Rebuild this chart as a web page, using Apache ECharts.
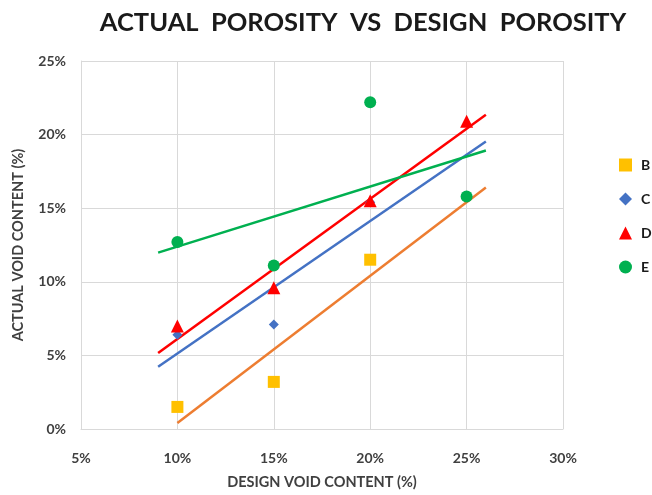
<!DOCTYPE html>
<html>
<head>
<meta charset="utf-8">
<script src="https://cdn.jsdelivr.net/npm/echarts@6/dist/echarts.min.js"></script>
<style>
  html, body { margin: 0; padding: 0; background: #fff; }
  #chart { width: 652px; height: 495px; }
</style>
</head>
<body>
<div id="chart"></div>
<script>
// Design void content (%) for each mix
const designB = [10, 15, 20];
const designC = [10, 15, 20];
const designD = [10, 15, 20, 25];
const designE = [10, 15, 20, 25];

// Measured (actual) void content (%)
const actualB = [1.5, 3.2, 11.5];
const actualC = [6.4, 7.1, 15.4];
const actualD = [7.0, 9.6, 15.5, 20.9];
const actualE = [12.7, 11.1, 22.2, 15.8];

// Range over which each linear trend line is drawn (design %)
const trendB = [10, 26];
const trendC = [9, 26];
const trendD = [9, 26];
const trendE = [9, 26];

const seriesNames = ['B', 'C', 'D', 'E'];

// Least-squares fit, evaluated at the two ends of the trend range
function trend(xs, ys, range) {
  const n = xs.length;
  const mx = xs.reduce((a, b) => a + b, 0) / n;
  const my = ys.reduce((a, b) => a + b, 0) / n;
  let sxy = 0, sxx = 0;
  for (let i = 0; i < n; i++) {
    sxy += (xs[i] - mx) * (ys[i] - my);
    sxx += (xs[i] - mx) * (xs[i] - mx);
  }
  const k = sxy / sxx;
  return range.map(x => [x, my + k * (x - mx)]);
}
function pairs(xs, ys) { return xs.map((x, i) => [x, ys[i]]); }

const FONT = 'Lato, "Open Sans", sans-serif';
const textCol = '#404040';

const colors = {
  B: { mark: '#FFC000', line: '#ED7D31', symbol: 'rect', size: 12 },
  C: { mark: '#4472C4', line: '#4472C4', symbol: 'diamond', size: 10 },
  D: { mark: '#FF0000', line: '#FF0000', symbol: 'triangle', size: 13 },
  E: { mark: '#00B050', line: '#00B050', symbol: 'circle', size: 12 }
};

const points = { B: pairs(designB, actualB), C: pairs(designC, actualC), D: pairs(designD, actualD), E: pairs(designE, actualE) };
const lines = {
  B: trend(designB, actualB, trendB),
  C: trend(designC, actualC, trendC),
  D: trend(designD, actualD, trendD),
  E: trend(designE, actualE, trendE)
};

const series = [];
seriesNames.forEach(name => {
  series.push({
    name: name + ' trend',
    type: 'line',
    data: lines[name],
    symbol: 'none',
    silent: true,
    lineStyle: { color: colors[name].line, width: 2.5 },
    z: 2
  });
});
seriesNames.forEach(name => {
  series.push({
    name: name,
    type: 'scatter',
    data: points[name],
    symbol: colors[name].symbol,
    symbolSize: colors[name].size,
    itemStyle: { color: colors[name].mark, opacity: 1 },
    z: 3
  });
});

const chart = echarts.init(document.getElementById('chart'), null, { renderer: 'canvas' });
chart.setOption({
  animation: false,
  backgroundColor: '#ffffff',
  title: {
    text: 'ACTUAL  POROSITY  VS  DESIGN  POROSITY',
    left: 358,
    textAlign: 'center',
    top: 5,
    textStyle: { fontFamily: FONT, fontSize: 25.5, fontWeight: 'bold', color: '#1a1a1a' }
  },
  grid: { left: 81, right: 89, top: 61, bottom: 61 },
  legend: {
    data: seriesNames.map(n => ({ name: n, icon: colors[n].symbol })),
    orient: 'vertical',
    left: 614,
    top: 153,
    itemWidth: 13,
    itemHeight: 13,
    itemGap: 20,
    textStyle: { fontFamily: FONT, fontSize: 14, fontWeight: 'bold', color: '#1a1a1a', padding: [0, 0, 0, 4] }
  },
  xAxis: {
    type: 'value',
    min: 5, max: 30, interval: 5,
    name: 'DESIGN VOID CONTENT (%)',
    nameLocation: 'middle',
    nameGap: 46,
    nameTextStyle: { fontFamily: FONT, fontSize: 14.5, fontWeight: 'bold', color: textCol },
    axisLine: { show: true, lineStyle: { color: '#d9d9d9', width: 1 } },
    axisTick: { show: false },
    axisLabel: { formatter: '{value}%', margin: 22, fontFamily: FONT, fontSize: 14, fontWeight: 'bold', color: textCol },
    splitLine: { show: true, lineStyle: { color: '#d9d9d9', width: 1 } }
  },
  yAxis: {
    type: 'value',
    min: 0, max: 25, interval: 5,
    name: 'ACTUAL VOID CONTENT (%)',
    nameLocation: 'middle',
    nameGap: 55,
    nameTextStyle: { fontFamily: FONT, fontSize: 14.5, fontWeight: 'bold', color: textCol },
    axisLine: { show: true, lineStyle: { color: '#d9d9d9', width: 1 } },
    axisTick: { show: false },
    axisLabel: { formatter: '{value}%', margin: 15, fontFamily: FONT, fontSize: 14, fontWeight: 'bold', color: textCol },
    splitLine: { show: true, lineStyle: { color: '#d9d9d9', width: 1 } }
  },
  series: series
});
</script>
</body>
</html>
